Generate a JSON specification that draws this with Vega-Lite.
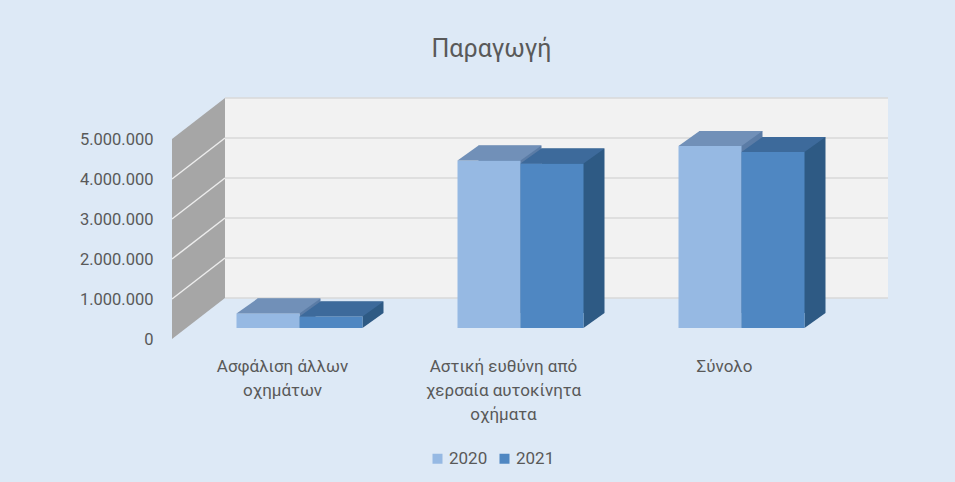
{
  "$schema": "https://vega.github.io/schema/vega-lite/v6.json",
  "width": 663,
  "height": 244,
  "autosize": {"type": "none"},
  "padding": {"left": 172, "top": 95, "right": 120, "bottom": 143},
  "background": "#dde9f6",
  "title": {"text": "Παραγωγή", "font": "Roboto", "fontSize": 25, "fontWeight": "normal", "color": "#595959", "anchor": "middle", "dx": -12, "offset": 33},
  "config": {
    "view": {"stroke": null},
    "font": "Roboto",
    "locale": {"number": {"decimal": ",", "thousands": ".", "grouping": [3], "currency": ["", " €"]}},
    "axis": {"title": null},
    "axisY": {"domain": false, "ticks": false, "grid": false, "labelFontSize": 16.5, "labelColor": "#595959", "labelPadding": 19, "labelFont": "Roboto"},
    "axisX": {"domain": false, "ticks": false, "grid": false, "labelAngle": 0, "labelFontSize": 17, "labelColor": "#595959", "labelPadding": 19, "labelLineHeight": 24, "labelBaseline": "top", "labelOverlap": false, "labelBound": false, "labelLimit": 300, "labelFont": "Roboto"},
    "legend": {"orient": "none", "legendX": 257, "legendY": 355, "direction": "horizontal", "title": null, "symbolType": "square", "symbolSize": 100, "symbolStrokeWidth": 0, "labelFontSize": 17, "labelColor": "#595959", "labelFont": "Roboto", "columnPadding": 8, "labelOffset": 3, "padding": 0}
  },
  "datasets": {
    "prod": [
      {"category": "Ασφάλιση άλλων οχημάτων", "year": "2020", "value": 360000},
      {"category": "Ασφάλιση άλλων οχημάτων", "year": "2021", "value": 290000},
      {"category": "Αστική ευθύνη από χερσαία αυτοκίνητα οχήματα", "year": "2020", "value": 4190000},
      {"category": "Αστική ευθύνη από χερσαία αυτοκίνητα οχήματα", "year": "2021", "value": 4110000},
      {"category": "Σύνολο", "year": "2020", "value": 4550000},
      {"category": "Σύνολο", "year": "2021", "value": 4400000}
    ],
    "grid": [
      {"level": 0}, {"level": 1000000}, {"level": 2000000}, {"level": 3000000}, {"level": 4000000}, {"level": 5000000}
    ],
    "wall": [{"part": "wall"}]
  },
  "data": {"name": "prod"},
  "layer": [
    {
      "data": {"name": "wall"},
      "mark": {"type": "rect", "color": "#f2f2f2", "xOffset": 53, "x2Offset": 53, "yOffset": -41, "y2Offset": -41},
      "encoding": {
        "x": {"datum": "Ασφάλιση άλλων οχημάτων", "type": "nominal", "bandPosition": 0,
              "scale": {"domain": ["Ασφάλιση άλλων οχημάτων", "Αστική ευθύνη από χερσαία αυτοκίνητα οχήματα", "Σύνολο"], "paddingInner": 0, "paddingOuter": 0},
              "axis": {"labelExpr": "datum.value == 'Ασφάλιση άλλων οχημάτων' ? ['Ασφάλιση άλλων', 'οχημάτων'] : datum.value == 'Αστική ευθύνη από χερσαία αυτοκίνητα οχήματα' ? ['Αστική ευθύνη από', 'χερσαία αυτοκίνητα', 'οχήματα'] : datum.label"}},
        "x2": {"datum": "Σύνολο", "bandPosition": 1},
        "y": {"datum": 0, "type": "quantitative", "scale": {"domain": [0, 6100000], "nice": false},
              "axis": {"values": [0, 1000000, 2000000, 3000000, 4000000, 5000000], "format": ",d"}},
        "y2": {"datum": 5000000}
      }
    },
    {
      "data": {"name": "grid"},
      "mark": {"type": "rule", "color": "#d9d9d9", "strokeWidth": 1.5, "xOffset": 53, "x2Offset": 53, "yOffset": -41, "y2Offset": -41},
      "encoding": {
        "x": {"datum": "Ασφάλιση άλλων οχημάτων", "type": "nominal", "bandPosition": 0},
        "x2": {"datum": "Σύνολο", "bandPosition": 1},
        "y": {"field": "level", "type": "quantitative"}
      }
    },
    {
      "data": {"name": "wall"},
      "mark": {"type": "point", "shape": "M0,0L0,-200L53,-241L53,-41Z", "size": 4, "filled": true, "opacity": 1, "color": "#a6a6a6", "strokeWidth": 0},
      "encoding": {
        "x": {"datum": "Ασφάλιση άλλων οχημάτων", "type": "nominal", "bandPosition": 0},
        "y": {"datum": 0, "type": "quantitative"}
      }
    },
    {
      "data": {"name": "grid"},
      "transform": [{"filter": "datum.level > 0 && datum.level < 5000000"}],
      "mark": {"type": "point", "shape": "M0,0L53,-41", "size": 4, "filled": false, "opacity": 1, "color": "#ececec", "strokeWidth": 1.5},
      "encoding": {
        "x": {"datum": "Ασφάλιση άλλων οχημάτων", "type": "nominal", "bandPosition": 0},
        "y": {"field": "level", "type": "quantitative"}
      }
    },
    {
      "transform": [{"filter": "datum.year == '2020'"}],
      "mark": {"type": "bar", "width": 63, "color": "#5b7ca6", "xOffset": 6.5, "yOffset": -26, "y2Offset": -26},
      "encoding": {"x": {"field": "category", "type": "nominal"}, "y": {"field": "value", "type": "quantitative"}}
    },
    {
      "transform": [{"filter": "datum.year == '2021'"}],
      "mark": {"type": "bar", "width": 63, "color": "#2e5a84", "xOffset": 69.5, "yOffset": -26, "y2Offset": -26},
      "encoding": {"x": {"field": "category", "type": "nominal"}, "y": {"field": "value", "type": "quantitative"}}
    },
    {
      "transform": [{"filter": "datum.year == '2020'"}],
      "mark": {"type": "point", "shape": "M31.5,0L52.5,-15L31.5,-15Z", "size": 4, "filled": true, "opacity": 1, "color": "#5b7ca6", "strokeWidth": 0, "xOffset": -14.5, "yOffset": -11},
      "encoding": {"x": {"field": "category", "type": "nominal"}, "y": {"datum": 0, "type": "quantitative"}}
    },
    {
      "transform": [{"filter": "datum.year == '2021'"}],
      "mark": {"type": "point", "shape": "M31.5,0L52.5,-15L31.5,-15Z", "size": 4, "filled": true, "opacity": 1, "color": "#2e5a84", "strokeWidth": 0, "xOffset": 48.5, "yOffset": -11},
      "encoding": {"x": {"field": "category", "type": "nominal"}, "y": {"datum": 0, "type": "quantitative"}}
    },
    {
      "transform": [{"filter": "datum.year == '2020'"}],
      "mark": {"type": "bar", "width": 63, "xOffset": -14.5, "yOffset": -11, "y2Offset": -11},
      "encoding": {
        "x": {"field": "category", "type": "nominal"},
        "y": {"field": "value", "type": "quantitative"},
        "color": {"field": "year", "type": "nominal", "scale": {"domain": ["2020", "2021"], "range": ["#96b9e3", "#4f87c2"]}}
      }
    },
    {
      "transform": [{"filter": "datum.year == '2021'"}],
      "mark": {"type": "bar", "width": 63, "xOffset": 48.5, "yOffset": -11, "y2Offset": -11},
      "encoding": {
        "x": {"field": "category", "type": "nominal"},
        "y": {"field": "value", "type": "quantitative"},
        "color": {"field": "year", "type": "nominal"}
      }
    },
    {
      "transform": [{"filter": "datum.year == '2020'"}],
      "mark": {"type": "point", "shape": "M-31.5,0L31.5,0L52.5,-15L-10.5,-15Z", "size": 4, "filled": true, "opacity": 1, "color": "#7190b8", "strokeWidth": 0, "xOffset": -14.5, "yOffset": -11},
      "encoding": {"x": {"field": "category", "type": "nominal"}, "y": {"field": "value", "type": "quantitative"}}
    },
    {
      "transform": [{"filter": "datum.year == '2021'"}],
      "mark": {"type": "point", "shape": "M-31.5,0L31.5,0L52.5,-15L-10.5,-15Z", "size": 4, "filled": true, "opacity": 1, "color": "#3d6a9b", "strokeWidth": 0, "xOffset": 48.5, "yOffset": -11},
      "encoding": {"x": {"field": "category", "type": "nominal"}, "y": {"field": "value", "type": "quantitative"}}
    }
  ]
}
